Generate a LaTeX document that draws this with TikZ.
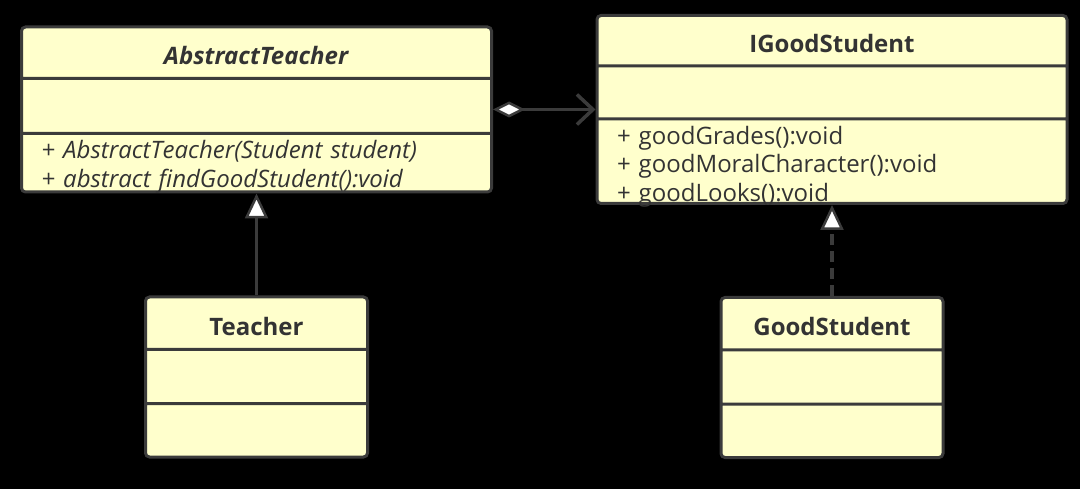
\documentclass[tikz,border=0pt]{standalone}
\usepackage{fontspec}
\setmainfont{Open Sans}
\setlength{\parindent}{0pt}
\definecolor{umlfill}{HTML}{FFFFCC}
\definecolor{umlline}{HTML}{3B3B3B}
\definecolor{umltext}{HTML}{333333}
\usetikzlibrary{positioning,arrows.meta,shapes.multipart}

\begin{document}
\begin{tikzpicture}
    [x=1pt,y=-1pt,
      umlclass/.style={rectangle split, rectangle split parts=3, draw=umlline, fill=umlfill,
        line width=3pt, rounded corners=4pt, inner xsep=20pt, inner ysep=0pt,
        text=umltext, font=\fontsize{24}{28.5}\selectfont, text width=430pt},
      small/.style={text width=182pt},
      link/.style={umlline, line width=3.5pt},
      hollow/.style={-{Triangle[fill=white,length=25pt,width=23pt,line width=2.5pt]}}]

    \fill [black] (0,0) rectangle (1080,489);

    \node [umlclass,anchor=north] (abst) at (256.5,25.5) {
      \nodepart{one} \makebox[\linewidth]{\rule[-12.5pt]{0pt}{48.5pt}\textbf{\textit{AbstractTeacher}}}
      \nodepart{two} \rule{0pt}{52pt}
      \nodepart{three} \itshape\rule{0pt}{24pt}+ AbstractTeacher(Student student)\\
        \smash{+ abstract findGoodStudent():void}\rule[-3pt]{0pt}{0pt}
    };

    \node [umlclass,right=102.5pt of abst] (igs) {
      \nodepart{one} \makebox[\linewidth]{\rule[-11.5pt]{0pt}{47.5pt}\textbf{IGoodStudent}}
      \nodepart{two} \rule{0pt}{50pt}
      \nodepart{three} \rule{0pt}{24pt}+ goodGrades():void\\
        + goodMoralCharacter():void\\
        \smash{+ goodLooks():void}\rule[-0.5pt]{0pt}{0pt}
    };

    \node [umlclass,small,below=102pt of abst] (teacher) {
      \nodepart{one} \makebox[\linewidth]{\rule[-12.5pt]{0pt}{49.5pt}\textbf{Teacher}}
      \nodepart{two} \rule{0pt}{51pt}
      \nodepart{three} \rule{0pt}{50.5pt}
    };

    \node [umlclass,small,below=91pt of igs] (gstudent) {
      \nodepart{one} \makebox[\linewidth]{\rule[-12.5pt]{0pt}{49.5pt}\textbf{GoodStudent}}
      \nodepart{two} \rule{0pt}{51pt}
      \nodepart{three} \rule{0pt}{50.5pt}
    };

    \draw [link,{Diamond[fill=white,length=32pt,width=16pt,line width=2.5pt]}-{Straight Barb[length=16pt,width=30pt]}]
      (abst.east) -- (abst.east -| igs.west);

    \draw [link,hollow] (teacher.north) -- (teacher.north |- abst.south);

    \draw [link,hollow,dash pattern=on 11pt off 6pt] (gstudent.north) -- (gstudent.north |- igs.south);
  \end{tikzpicture}
\end{document}
